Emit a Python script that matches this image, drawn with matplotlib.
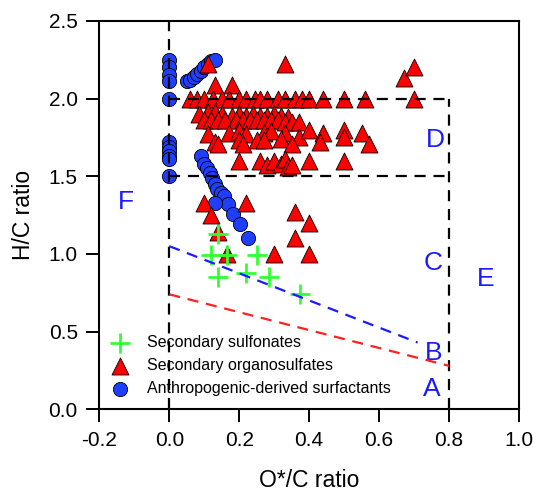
import matplotlib
matplotlib.use("Agg")
import matplotlib.pyplot as plt

plt.rcParams['font.family'] = ['Liberation Sans', 'DejaVu Sans']

# secondary sulfonates
sulf_x = [0.14, 0.12, 0.165, 0.25, 0.14, 0.22, 0.285, 0.375]
sulf_y = [1.13, 0.99, 0.99, 0.99, 0.85, 0.88, 0.85, 0.74]

# secondary organosulfates
os_x = [0.11, 0.33, 0.67, 0.70, 0.13, 0.18,
        0.06, 0.08, 0.10, 0.125, 0.15, 0.17, 0.20, 0.22, 0.245, 0.26,
        0.28, 0.31, 0.33, 0.36, 0.38, 0.40, 0.44, 0.50, 0.56, 0.70,
        0.085, 0.11, 0.13, 0.15, 0.18, 0.20, 0.22, 0.24, 0.26, 0.28, 0.30, 0.32, 0.34,
        0.10, 0.12, 0.14, 0.16, 0.19, 0.21, 0.23, 0.25, 0.27, 0.29, 0.31, 0.33, 0.35, 0.37,
        0.11, 0.17, 0.20, 0.22, 0.27, 0.29, 0.33, 0.37, 0.40, 0.44, 0.50, 0.55,
        0.13, 0.14, 0.20, 0.21, 0.25, 0.27, 0.32, 0.35, 0.43, 0.50, 0.57,
        0.20, 0.26, 0.28, 0.30, 0.32, 0.33, 0.34, 0.35, 0.40, 0.50,
        0.10, 0.22, 0.12, 0.14, 0.165, 0.30, 0.36, 0.40, 0.36, 0.40]
os_y = [2.22, 2.22, 2.13, 2.20, 2.09, 2.09,
        2.0, 2.0, 2.0, 2.0, 2.0, 2.0, 2.0, 2.0, 2.0, 2.0,
        2.0, 2.0, 2.0, 2.0, 2.0, 2.0, 2.0, 2.0, 2.0, 2.0,
        1.90, 1.91, 1.91, 1.90, 1.89, 1.90, 1.89, 1.90, 1.89, 1.89, 1.90, 1.89, 1.88,
        1.86, 1.86, 1.86, 1.86, 1.86, 1.86, 1.86, 1.86, 1.86, 1.86, 1.86, 1.85, 1.85, 1.85,
        1.77, 1.78, 1.79, 1.77, 1.78, 1.79, 1.78, 1.75, 1.80, 1.78, 1.80, 1.78,
        1.72, 1.71, 1.73, 1.71, 1.73, 1.73, 1.74, 1.71, 1.72, 1.75, 1.71,
        1.60, 1.60, 1.57, 1.60, 1.58, 1.61, 1.56, 1.57, 1.60, 1.60,
        1.33, 1.33, 1.25, 1.14, 1.00, 1.00, 1.27, 1.20, 1.10, 1.00]

# anthropogenic-derived surfactants
surf_x = [0, 0, 0, 0, 0, 0, 0, 0, 0, 0, 0,
          0.05, 0.06, 0.07, 0.08, 0.09, 0.10, 0.11, 0.12, 0.13,
          0.09, 0.10, 0.107, 0.115, 0.122, 0.13, 0.137, 0.147, 0.157, 0.169,
          0.183, 0.203, 0.224, 0.132]
surf_y = [2.25, 2.20, 2.15, 2.11, 2.00, 1.72, 1.69, 1.66, 1.63, 1.61, 1.50,
          2.11, 2.12, 2.14, 2.16, 2.18, 2.20, 2.22, 2.24, 2.25,
          1.63, 1.58, 1.55, 1.52, 1.49, 1.45, 1.42, 1.39, 1.37, 1.32,
          1.26, 1.195, 1.10, 1.33]

# region boundaries and fitted lines
blue_x = [0.0, 0.71]
blue_y = [1.05, 0.43]
red_x = [0.0, 0.80]
red_y = [0.74, 0.28]

region_labels = ['A', 'B', 'C', 'D', 'E', 'F']
region_x = [0.75, 0.755, 0.755, 0.76, 0.905, -0.125]
region_y = [0.13, 0.36, 0.94, 1.73, 0.84, 1.335]

fig = plt.figure(figsize=(5.34, 4.95), dpi=100)
ax = fig.add_axes([0.186, 0.173, 0.786, 0.785])

ax.scatter(surf_x, surf_y, marker='o', s=105, facecolor='#1f3fff',
           edgecolor='black', linewidth=0.6, zorder=3,
           label='Anthropogenic-derived surfactants')
ax.scatter(os_x, os_y, marker='^', s=150, facecolor='#ff0000',
           edgecolor='black', linewidth=0.6, zorder=3,
           label='Secondary organosulfates')
ax.scatter(sulf_x, sulf_y, marker='+', s=190, color='#33ff33',
           linewidth=2, zorder=4, label='Secondary sulfonates')

dash = (0, (5, 3.5))
ax.plot([0, 0], [0, 2.5], color='black', lw=1.6, ls=dash, zorder=5)
ax.plot([0, 0.8], [2.0, 2.0], color='black', lw=1.6, ls=dash, zorder=5)
ax.plot([0, 0.8], [1.5, 1.5], color='black', lw=1.6, ls=dash, zorder=5)
ax.plot([0.8, 0.8], [0, 2.0], color='black', lw=1.6, ls=dash, zorder=5)
ax.plot(blue_x, blue_y, color='#1a1aff', lw=1.6, ls=dash, zorder=5)
ax.plot(red_x, red_y, color='#ff2020', lw=1.6, ls=dash, zorder=5)

for t, x, y in zip(region_labels, region_x, region_y):
    ax.text(x, y, t, color='#1a1aff', fontsize=19, ha='center', va='center')

ax.set_xlim(-0.2, 1.0)
ax.set_ylim(0, 2.5)
ax.set_xticks([-0.2, 0.0, 0.2, 0.4, 0.6, 0.8, 1.0])
ax.set_yticks([0.0, 0.5, 1.0, 1.5, 2.0, 2.5])
ax.set_xticklabels(['-0.2', '0.0', '0.2', '0.4', '0.6', '0.8', '1.0'])
ax.set_yticklabels(['0.0', '0.5', '1.0', '1.5', '2.0', '2.5'])
ax.tick_params(direction='out', length=9.5, width=1.4, labelsize=15, pad=6)
for s in ax.spines.values():
    s.set_linewidth(1.5)

ax.set_xlabel('O*/C ratio', fontsize=16.5, labelpad=14)
ax.set_ylabel('H/C ratio', fontsize=16.5, labelpad=10)

h, l = ax.get_legend_handles_labels()
ax.legend(h[::-1], l[::-1], loc='lower left', bbox_to_anchor=(0.0, 0.005),
          frameon=False, fontsize=11.5, handlelength=1.2, handletextpad=1.1,
          labelspacing=0.5, borderaxespad=0.3)

fig.savefig('out.png', dpi=100)
